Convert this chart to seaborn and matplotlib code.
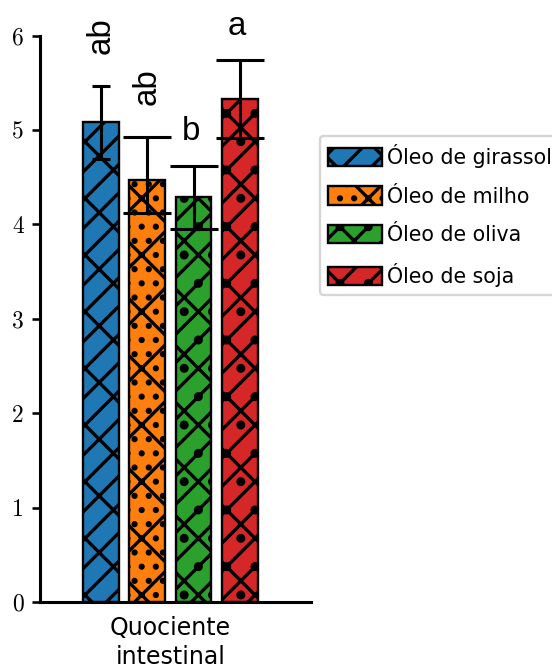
import pandas as pd
import seaborn as sns
import matplotlib.pyplot as plt

# dados
grupos = ["Quociente\nintestinal"] * 4
oleos = ["Óleo de girassol", "Óleo de milho", "Óleo de oliva", "Óleo de soja"]
medias = [5.08, 4.47, 4.29, 5.33]
erro_inf = [0.39, 0.35, 0.34, 0.42]
erro_sup = [0.39, 0.46, 0.33, 0.41]
letras = ["ab", "ab", "b", "a"]

hachuras = ["/x", "x..", "/x.", "/x."]
rotacoes = [90, 90, 0, 0]
capsizes = [3.8, 10, 10, 10]

plt.rcParams["hatch.linewidth"] = 1.4

df = pd.DataFrame({"grupo": grupos, "oleo": oleos, "valor": medias})

dpi = 170
fig = plt.figure(figsize=(552 / dpi, 668 / dpi), dpi=dpi)
ax = fig.add_axes([40 / 552, 66 / 668, 271 / 552, 566.5 / 668])

sns.barplot(data=df, x="grupo", y="valor", hue="oleo", palette="tab10",
            saturation=1, width=0.68, gap=0.22, edgecolor="black", linewidth=1,
            errorbar=None, legend=False, ax=ax)

barras = sorted([p for p in ax.patches if p.get_height() > 0], key=lambda p: p.get_x())

handles = []
for i, p in enumerate(barras):
    p.set_hatch(hachuras[i])
    handles.append(p)
    x = p.get_x() + p.get_width() / 2
    ax.errorbar(x, medias[i], yerr=[[erro_inf[i]], [erro_sup[i]]], fmt="none",
                ecolor="black", elinewidth=1.3, capsize=capsizes[i], capthick=1.3)
    topo = medias[i] + erro_sup[i]
    if rotacoes[i] == 90:
        ax.text(x, topo + 0.33, letras[i], rotation=90, ha="center", va="bottom",
                fontsize=14, family="Liberation Sans", clip_on=False)
    else:
        ax.text(x - 0.01, topo + 0.27, letras[i], ha="center", va="baseline",
                fontsize=14, family="Liberation Sans", clip_on=False)

ax.set_xlim(-0.4815, 0.5185)
ax.set_ylim(0, 6)
ax.set_xlabel("")
ax.set_ylabel("")
sns.despine(ax=ax)
for s in ["left", "bottom"]:
    ax.spines[s].set_linewidth(1.3)

ax.tick_params(axis="x", length=0, pad=6, labelsize=10)
ax.tick_params(axis="y", length=3.4, width=1.1, pad=3.5)
for t in ax.get_yticklabels():
    t.set_fontfamily("cmr10")
    t.set_fontsize(10)
for t in ax.get_xticklabels():
    t.set_fontfamily("DejaVu Sans")
    t.set_linespacing(1.25)

ax.legend(handles, oleos, loc="upper left",
          bbox_to_anchor=(320 / 552, 1 - 136 / 668), bbox_transform=fig.transFigure,
          borderaxespad=0, fontsize=8.7, handlelength=2.6, handleheight=1.0,
          handletextpad=0.25, labelspacing=0.88)

plt.savefig("out.png", dpi=dpi)
